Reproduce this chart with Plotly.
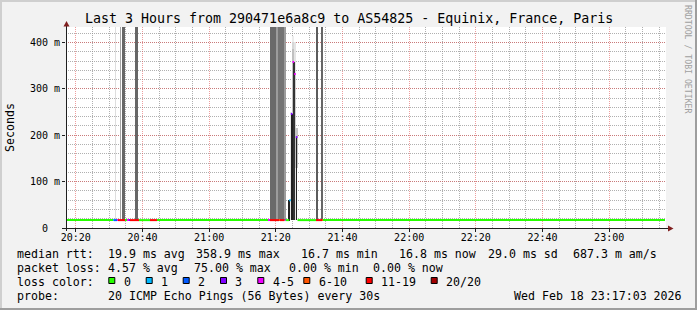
import pandas as pd
import plotly.graph_objects as go

# ---------------- data ----------------
DAY = "2026-02-18"
t_start, t_end = "20:17:03", "23:17:03"
y_max_ms = 433.4

loss_labels = ["0", "1", "2", "3", "4-5", "6-10", "11-19", "20/20"]
loss_colors = ["#26ff00", "#00b8ff", "#0059ff", "#7e00ff", "#f000ff", "#ff5500", "#ff0000", "#a10000"]

# median rtt segments: start time, median (ms), loss bucket (index into loss_labels)
med_start = ["20:17:03", "20:31:09", "20:31:27", "20:32:21", "20:32:39", "20:34:45", "20:35:21",
             "20:35:57", "20:36:15", "20:38:57", "20:42:15", "20:44:21", "21:17:39", "21:18:15",
             "21:20:57", "21:21:15", "21:22:36", "21:22:54", "21:24:00", "21:24:30", "21:25:00",
             "21:25:30", "21:26:00", "21:26:30", "21:32:03", "21:33:51", "21:34:09"]
med_ms = [17, 17, 17, 17, 17, 17, 17,
          17, 17, 17, 17, 17, 17, 17,
          17, 17, 17, 17, 60, 246, 358,
          332, 196, 17, 17, 17, 17]
med_bucket = [0, 1, 2, 4, 6, 0, 4,
              3, 6, 0, 6, 0, 4, 6,
              5, 6, 3, 0, 1, 3, 4,
              4, 3, 0, 6, 5, 0]
med_end = "23:16:45"

# smoke (ping spread) bands: start, end, low (ms), high (ms), shade
smoke_start = ["20:31:45", "20:33:15", "20:34:00", "20:37:45", "21:18:24", "21:20:03", "21:20:39",
               "21:22:27", "21:32:03", "21:33:33",
               "21:24:30", "21:25:00", "21:25:00", "21:25:00", "21:25:30", "21:25:30", "21:26:00",
               "21:23:48", "21:24:42", "21:25:18", "21:26:03"]
smoke_end = ["20:32:03", "20:33:33", "20:34:45", "20:38:39", "21:20:03", "21:20:39", "21:22:27",
             "21:23:03", "21:32:39", "21:34:09",
             "21:25:00", "21:25:30", "21:25:30", "21:25:30", "21:26:00", "21:26:00", "21:26:30",
             "21:24:06", "21:25:00", "21:25:36", "21:26:21"]
smoke_lo_ms = [17, 17, 17, 17, 17, 17, 17, 17, 17, 17,
               17, 17, 120, 250, 17, 150, 130,
               15, 17, 17, 17]
smoke_hi_ms = [500, 500, 500, 500, 500, 500, 500, 500, 500, 500,
               250, 415, 400, 385, 400, 330, 215,
               60, 246, 358, 196]
smoke_color = ["#dedede", "#a6a6a6", "#676767", "#676767", "#6a6a6a", "#9c9c9c", "#747474",
               "#9c9c9c", "#5c5c5c", "#666666",
               "#e8e8e8", "#ececec", "#d6d6d6", "#c0c0c0", "#e4e4e4", "#cfcfcf", "#c4c4c4",
               "#222222", "#222222", "#333333", "#222222"]

y_tick_vals_ms = [0, 100, 200, 300, 400]
y_tick_text = ["0\u00a0\u00a0", "100 m", "200 m", "300 m", "400 m"]

title_text = "Last 3 Hours from 290471e6a8c9 to AS54825 - Equinix, France, Paris"
rtt_items = ["median rtt:", "19.9 ms avg", "358.9 ms max", "16.7 ms min", "16.8 ms now", "29.0 ms sd", "687.3 m am/s"]
loss_items = ["packet loss:", "4.57 % avg", "75.00 % max", "0.00 % min", "0.00 % now"]
probe_items = ["probe:", "20 ICMP Echo Pings (56 Bytes) every 30s", "Wed Feb 18 23:17:03 2026"]

# ---------------- layout constants (pixels) ----------------
W, H = 697, 310
PL, PR, PT, PB = 66, 666, 27, 228
rtt_x = [16, 107.3, 195, 300, 398.3, 486.7, 572.3]
loss_x = [16, 107.3, 192.7, 288, 372.3]
probe_x = [16, 107.3, 513.3]
box_x = [108.3, 145.7, 182.7, 220, 257.3, 303.3, 365.7, 430.7]
row_y = [253.8, 268.0, 282.2, 296.4]
MONO = "DejaVu Sans Mono"


def T(s):
    return pd.Timestamp(f"{DAY} {s}")


def px(x):
    return (x - PL) / (PR - PL)


def py(y):
    return (PB - y) / (PB - PT)


fig = go.Figure()

# smoke bars
s0 = [T(s) for s in smoke_start]
s1 = [T(s) for s in smoke_end]
fig.add_trace(go.Bar(
    x=[a + (b - a) / 2 for a, b in zip(s0, s1)],
    y=[(h - l) / 1000 for l, h in zip(smoke_lo_ms, smoke_hi_ms)],
    base=[l / 1000 for l in smoke_lo_ms],
    width=[(b - a).total_seconds() * 1000 for a, b in zip(s0, s1)],
    marker=dict(color=smoke_color, line=dict(width=0)),
    hoverinfo="skip", showlegend=False,
))

# median line coloured by loss
ends = med_start[1:] + [med_end]
for k, col in enumerate(loss_colors):
    xs, ys = [], []
    for a, b, v, bk in zip(med_start, ends, med_ms, med_bucket):
        if bk == k:
            xs += [T(a), T(b), None]
            ys += [v / 1000, v / 1000, None]
    if xs:
        fig.add_trace(go.Scatter(x=xs, y=ys, mode="lines", line=dict(color=col, width=2),
                                 hoverinfo="skip", showlegend=False))

MAJOR = "rgba(222,79,79,0.55)"
MINOR = "rgba(143,143,143,0.7)"

fig.update_layout(
    width=W, height=H,
    margin=dict(l=PL, r=W - PR, t=PT, b=H - PB, pad=0),
    paper_bgcolor="#f2f2f2", plot_bgcolor="#ffffff",
    showlegend=False, barmode="overlay", bargap=0,
    font=dict(family=MONO, size=10, color="#000000"),
)
fig.update_xaxes(
    type="date", range=[T(t_start), T(t_end)],
    tick0=T("20:20:00"), dtick=20 * 60 * 1000, tickformat="%H:%M",
    showgrid=True, gridcolor=MAJOR, griddash="1px,1px", gridwidth=1,
    minor=dict(tick0=T("20:20:00"), dtick=5 * 60 * 1000, showgrid=True,
               gridcolor=MINOR, griddash="1px,1px", gridwidth=1),
    ticks="outside", ticklen=3, tickcolor="#1f1f1f", ticklabelstandoff=-3,
    showline=False, zeroline=False, fixedrange=True,
    tickfont=dict(family=MONO, size=10),
)
fig.update_yaxes(
    range=[0, y_max_ms / 1000],
    tickmode="array", tickvals=[v / 1000 for v in y_tick_vals_ms], ticktext=y_tick_text,
    showgrid=True, gridcolor=MAJOR, griddash="1px,1px", gridwidth=1,
    minor=dict(tickmode="linear", tick0=0, dtick=0.02, showgrid=True,
               gridcolor=MINOR, griddash="1px,1px", gridwidth=1),
    ticks="outside", ticklen=3, tickcolor="#1f1f1f",
    showline=False, zeroline=False, fixedrange=True,
    tickfont=dict(family=MONO, size=10),
)

shapes = []


def rect(x0, y0, x1, y1, fill, line=None):
    d = dict(type="rect", xref="paper", yref="paper", x0=px(x0), x1=px(x1), y0=py(y0), y1=py(y1),
             fillcolor=fill, layer="above")
    d["line"] = dict(width=1, color=line) if line else dict(width=0)
    shapes.append(d)


# frame shading
rect(0, 0, W, 2, "#cfcfcf")
rect(0, 0, 2, H, "#cfcfcf")
rect(0, H - 2, W, H, "#9e9e9e")
rect(W - 2, 0, W, H, "#9e9e9e")

# axes
shapes.append(dict(type="line", xref="paper", yref="paper", x0=px(66.5), x1=px(66.5), y0=py(231), y1=py(23),
                   line=dict(color="#1f1f1f", width=1), layer="above"))
shapes.append(dict(type="line", xref="paper", yref="paper", x0=px(63), x1=px(670), y0=py(228.5), y1=py(228.5),
                   line=dict(color="#1f1f1f", width=1), layer="above"))
# arrows
shapes.append(dict(type="path", xref="paper", yref="paper",
                   path=f"M {px(63.5)} {py(26.5)} L {px(69.5)} {py(26.5)} L {px(66.5)} {py(21)} Z",
                   fillcolor="#801f1f", line=dict(width=0), layer="above"))
shapes.append(dict(type="path", xref="paper", yref="paper",
                   path=f"M {px(668)} {py(225.5)} L {px(668)} {py(231.5)} L {px(673.5)} {py(228.5)} Z",
                   fillcolor="#801f1f", line=dict(width=0), layer="above"))

# loss colour legend boxes
for bx, col in zip(box_x, loss_colors):
    rect(bx + 0.5, 277.5, bx + 6.5, 283.5, col, line="#000000")

annotations = []


def text(x, y, s, size=11.6, anchor="left", angle=0, color="#000000"):
    annotations.append(dict(xref="paper", yref="paper", x=px(x), y=py(y), text=s, showarrow=False,
                            xanchor=anchor, yanchor="middle", textangle=angle, borderpad=0,
                            font=dict(family=MONO, size=size, color=color)))


text(W / 2, 19, title_text, size=13.3, anchor="center")
text(10, 128, "Seconds", size=11.6, anchor="center", angle=-90)
text(688, 59, "RRDTOOL / TOBI OETIKER", size=8.2, anchor="center", angle=90, color="#a0a0a0")

for s, x in zip(rtt_items, rtt_x):
    text(x, row_y[0], s)
for s, x in zip(loss_items, loss_x):
    text(x, row_y[1], s)
text(16, row_y[2], "loss color:")
for bx, lab in zip(box_x, loss_labels):
    text(bx + 14.4, row_y[2], lab)
for s, x in zip(probe_items, probe_x):
    text(x, row_y[3], s)

fig.update_layout(shapes=shapes, annotations=annotations)
fig.write_html("out.html")
